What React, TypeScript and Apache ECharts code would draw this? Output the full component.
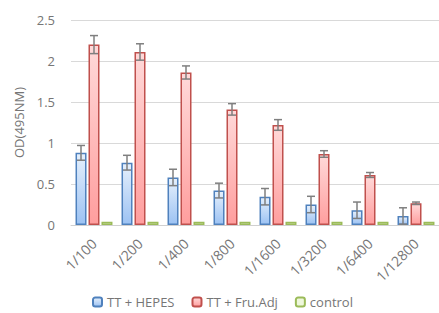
import React, { useEffect, useRef } from "react";
import * as echarts from "echarts";

const categories = ["1/100", "1/200", "1/400", "1/800", "1/1600", "1/3200", "1/6400", "1/12800"];
const hepes = [0.88, 0.76, 0.58, 0.42, 0.345, 0.25, 0.18, 0.11];
const hepesErr = [0.09, 0.09, 0.1, 0.09, 0.1, 0.1, 0.1, 0.1];
const fru = [2.2, 2.11, 1.86, 1.41, 1.22, 0.866, 0.61, 0.265];
const fruErr = [0.11, 0.1, 0.08, 0.07, 0.065, 0.04, 0.03, 0.015];
const control = [0.04, 0.04, 0.04, 0.04, 0.04, 0.04, 0.04, 0.04];
const seriesNames = ["TT + HEPES", "TT + Fru.Adj", "control"];
const yTicks = [0, 0.5, 1, 1.5, 2, 2.5];

const BAR_W = 11;
const STEP = 13;

function grad(top: string, bottom: string) {
  return new echarts.graphic.LinearGradient(0, 0, 0, 1, [
    { offset: 0, color: top },
    { offset: 1, color: bottom },
  ]);
}

function errorSeries(vals: number[], errs: number[], offset: number) {
  return {
    type: "custom",
    silent: true,
    z: 10,
    data: vals.map((v, i) => [i, v - errs[i], v + errs[i]]),
    renderItem: (params: any, api: any) => {
      const idx = api.value(0);
      const lo = api.coord([idx, api.value(1)]);
      const hi = api.coord([idx, api.value(2)]);
      const x = lo[0] + offset;
      const hw = 4;
      const style = { stroke: "#7f7f7f", lineWidth: 1.5 };
      return {
        type: "group",
        children: [
          { type: "line", shape: { x1: x, y1: lo[1], x2: x, y2: hi[1] }, style },
          { type: "line", shape: { x1: x - hw, y1: lo[1], x2: x + hw, y2: lo[1] }, style },
          { type: "line", shape: { x1: x - hw, y1: hi[1], x2: x + hw, y2: hi[1] }, style },
        ],
      };
    },
  };
}

export default function App() {
  const ref = useRef<HTMLDivElement>(null);
  useEffect(() => {
    if (!ref.current) return;
    const chart = echarts.init(ref.current, undefined, { renderer: "svg" });
    const font = "Open Sans";
    chart.setOption({
      animation: false,
      textStyle: { fontFamily: font },
      grid: { left: 71, right: -8, top: 20, bottom: 88 },
      legend: {
        top: 295,
        left: 92,
        padding: 0,
        itemWidth: 9,
        itemHeight: 9,
        itemGap: 17,
        textStyle: { color: "#767676", fontSize: 13, lineHeight: 14, fontFamily: font },
        data: seriesNames,
      },
      xAxis: {
        type: "category",
        data: categories,
        axisLine: { show: true, lineStyle: { color: "#d0d0d0", width: 1 } },
        axisTick: { show: false },
        axisLabel: { rotate: 45, color: "#767676", fontSize: 14, margin: 16, interval: 0, fontFamily: font },
      },
      yAxis: {
        type: "value",
        min: 0,
        max: 2.5,
        interval: 0.5,
        name: "OD(495NM)",
        nameLocation: "middle",
        nameGap: 40,
        nameTextStyle: { color: "#767676", fontSize: 13, fontFamily: font },
        axisLine: { show: false },
        axisTick: { show: false },
        axisLabel: {
          color: "#767676",
          fontSize: 13,
          margin: 16,
          fontFamily: font,
          formatter: (v: number) => (yTicks.includes(v) ? String(v) : ""),
        },
        splitLine: { lineStyle: { color: "#d9d9d9", width: 1 } },
      },
      series: [
        {
          name: seriesNames[0],
          type: "bar",
          data: hepes,
          barWidth: BAR_W,
          barGap: "18%",
          itemStyle: { color: grad("#e6f0fc", "#9cc2f3"), borderColor: "#4f81bd", borderWidth: 1.5 },
        },
        {
          name: seriesNames[1],
          type: "bar",
          data: fru,
          barWidth: BAR_W,
          barGap: "18%",
          itemStyle: { color: grad("#ffd9d9", "#ff9e9e"), borderColor: "#c0504d", borderWidth: 1.5 },
        },
        {
          name: seriesNames[2],
          type: "bar",
          data: control,
          barWidth: BAR_W,
          barGap: "18%",
          itemStyle: { color: "#eef7dc", borderColor: "#9bbb59", borderWidth: 1.5 },
        },
        errorSeries(hepes, hepesErr, -STEP),
        errorSeries(fru, fruErr, 0),
      ],
    });
    return () => chart.dispose();
  }, []);
  return (
    <div
      ref={ref}
      style={{ position: "absolute", left: 0, top: 0, width: 439, height: 313, background: "#fff" }}
    />
  );
}
